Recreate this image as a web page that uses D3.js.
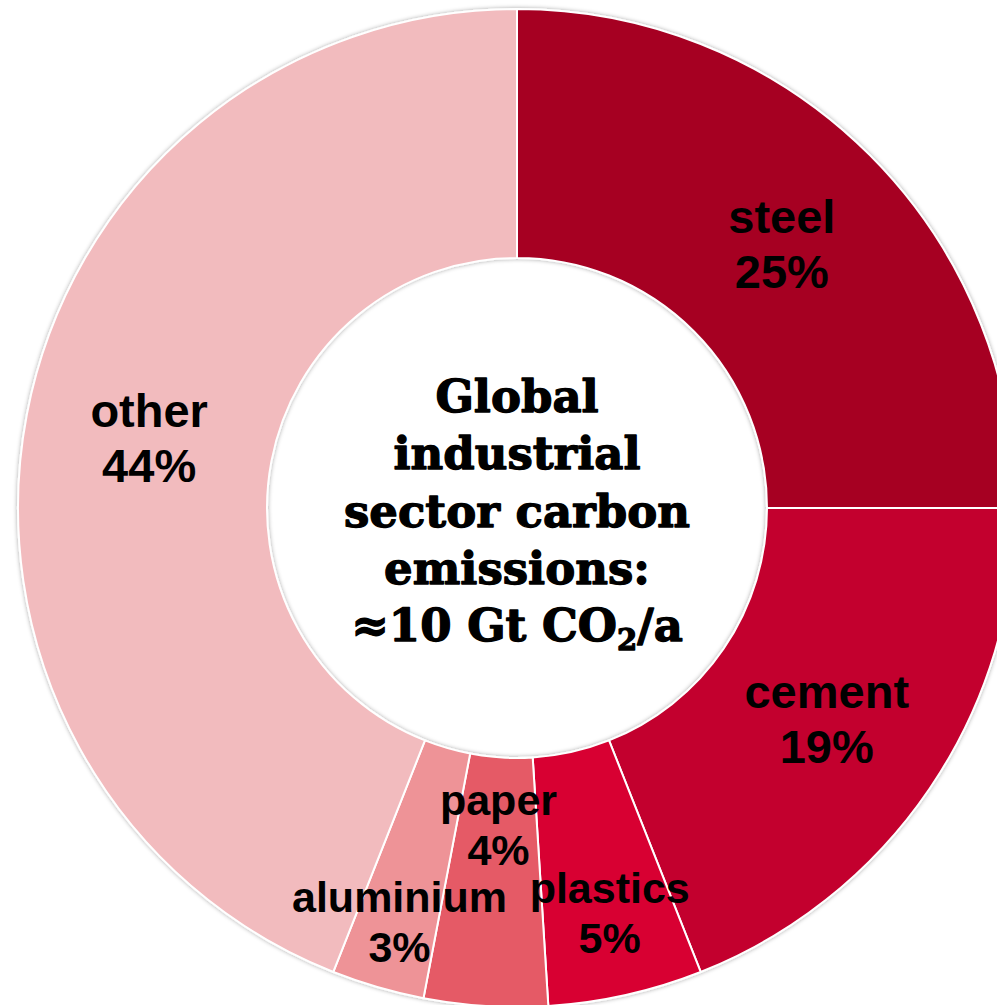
<!DOCTYPE html>
<html>
<head>
<meta charset="utf-8">
<script src="https://cdn.jsdelivr.net/npm/d3@7"></script>
<style>
  body { margin: 0; background: #fff; }
  svg { display: block; }
</style>
</head>
<body>
<div id="chart"></div>
<script>
// sectors, clockwise from 12 o'clock
var sectors = ["steel", "cement", "plastics", "paper", "aluminium", "other"];
var shares = [25, 19, 5, 4, 3, 44];
var colours = ["#A60024", "#C3002D", "#D80032", "#E55A66", "#EE9397", "#F2BBBE"];
// manual label drags for the thin slices (px), like in the original
var nudgeX = [0, 0, 11, 5, -13, 0];
var nudgeY = [0, 0, 39, -57, 54, 0];
var centreLines = ["Global", "industrial", "sector carbon", "emissions:"];

var w = 997, h = 1005,
    cx = 517, cy = 508,
    rOuter = 499, rInner = 250;

var svg = d3.select("#chart")
    .append("svg")
    .attr("width", w)
    .attr("height", h);

var defs = svg.append("defs");
var shadow = defs.append("filter")
    .attr("id", "shadow")
    .attr("x", "-10%").attr("y", "-10%")
    .attr("width", "120%").attr("height", "120%");
shadow.append("feDropShadow")
    .attr("dx", 0).attr("dy", 0)
    .attr("stdDeviation", 2)
    .attr("flood-color", "#000")
    .attr("flood-opacity", 0.35);

var g = svg.append("g")
    .attr("transform", "translate(" + cx + "," + cy + ")");

var pie = d3.pie().sort(null).value(function(d) { return d; });
var arcs = pie(shares);

var arc = d3.arc().innerRadius(rInner).outerRadius(rOuter);

// ring
g.append("g")
    .attr("filter", "url(#shadow)")
    .selectAll("path")
    .data(arcs)
    .enter()
    .append("path")
    .attr("d", arc)
    .attr("fill", function(d, i) { return colours[i]; })
    .attr("stroke", "#fff")
    .attr("stroke-width", 2)
    .attr("stroke-linejoin", "round");

// slice labels
var big = 47, small = 43;
var labels = g.selectAll(".label")
    .data(arcs)
    .enter()
    .append("text")
    .attr("class", "label")
    .attr("text-anchor", "middle")
    .attr("font-family", "'Liberation Sans', Arial, sans-serif")
    .attr("font-weight", "bold")
    .attr("fill", "#000")
    .attr("font-size", function(d) { return (d.value >= 10 ? big : small) + "px"; })
    .attr("transform", function(d, i) {
        var c = arc.centroid(d);
        return "translate(" + (c[0] + nudgeX[i]) + "," + (c[1] + nudgeY[i]) + ")";
    });

labels.each(function(d, i) {
    var fs = d.value >= 10 ? big : small;
    var lh = d.value >= 10 ? 55 : 50;
    var capHalf = fs * 0.716 / 2;
    var t = d3.select(this);
    t.append("tspan")
        .attr("x", 0)
        .attr("y", -lh / 2 + capHalf)
        .text(sectors[i]);
    t.append("tspan")
        .attr("x", 0)
        .attr("y", lh / 2 + capHalf)
        .text(shares[i] + "%");
});

// centre title
var title = g.append("text")
    .attr("text-anchor", "middle")
    .attr("font-family", "'DejaVu Serif', serif")
    .attr("font-weight", "bold")
    .attr("font-size", "45px")
    .attr("fill", "#000")
    .attr("stroke", "#000")
    .attr("stroke-width", 1.3)
    .attr("stroke-linejoin", "round");

var lineGap = 57.3, firstBase = -96;
centreLines.forEach(function(s, i) {
    title.append("tspan")
        .attr("x", 0)
        .attr("y", firstBase + i * lineGap)
        .text(s);
});
var last = title.append("tspan")
    .attr("x", 0)
    .attr("y", firstBase + 4 * lineGap);
last.append("tspan").text("≈10 Gt CO");
last.append("tspan")
    .attr("font-size", "29px")
    .attr("dy", 9)
    .text("2");
last.append("tspan")
    .attr("dy", -9)
    .text("/a");
</script>
</body>
</html>
